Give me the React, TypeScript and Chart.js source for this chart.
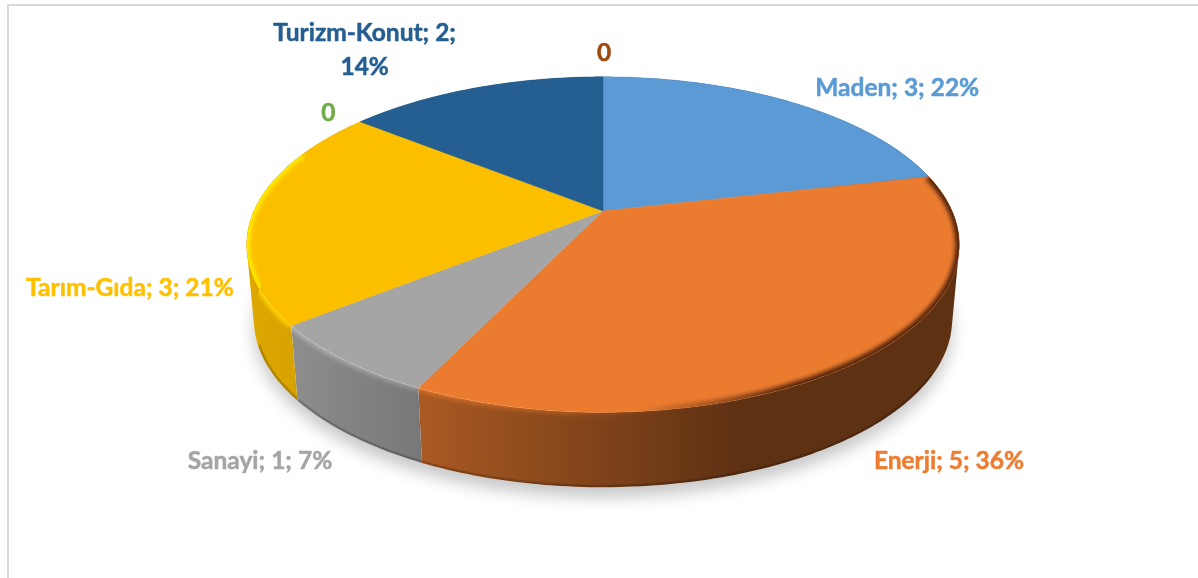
import React, { useEffect, useRef } from "react";
import { Chart, registerables } from "chart.js";

Chart.register(...registerables);

const categories = ["Maden", "Enerji", "Sanayi", "Tarım-Gıda", "", "Turizm-Konut", ""];
const values = [3, 5, 1, 3, 0, 2, 0];
const dataLabels = [
  "Maden; 3; 22%",
  "Enerji; 5; 36%",
  "Sanayi; 1; 7%",
  "Tarım-Gıda; 3; 21%",
  "0",
  "Turizm-Konut; 2;\n14%",
  "0",
];
const sliceColors = ["#5B9AD5", "#EB7B2F", "#A5A5A5", "#FCBF00", "#4472C4", "#255E91", "#255E91"];
const labelColors = ["#5B9BD5", "#ED7D31", "#A5A5A5", "#FFC000", "#70AD47", "#255E91", "#9E480E"];
// label centre relative to the slice's rim point at mid-angle
const labelOffsets = [
  [106, -14],
  [88, 101],
  [-85, 101],
  [-124, 77],
  [-32, -9],
  [-110, -38],
  [1, -24],
];

const W = 1198;
const H = 578;
const STRETCH_X = 2.168;
const PERSPECTIVE = -0.2;
const DEPTH = 75;
const BOTTOM_SCALE = 0.98;
const FONT = 'bold 24.5px Lato, "Open Sans", sans-serif';
const LINE_H = 34;
const WALL_SHADE: [number, number][] = [
  [-1.02, 0.88],
  [-0.868, 0.85],
  [-0.51, 0.72],
  [0.39, 0.4],
  [1.02, 0.4],
];

function hexRgb(hex: string) {
  return [1, 3, 5].map((i) => parseInt(hex.slice(i, i + 2), 16));
}
function shade(hex: string, f: number) {
  const [r, g, b] = hexRgb(hex);
  return `rgb(${Math.round(r * f)},${Math.round(g * f)},${Math.round(b * f)})`;
}

const pseudo3d = {
  id: "pseudo3d",
  beforeDatasetsDraw(chart: any) {
    const ctx: CanvasRenderingContext2D = chart.ctx;
    const arcs: any[] = chart.getDatasetMeta(0).data;
    if (!arcs.length) return false;
    const { x: cx, y: cy, outerRadius: R } = arcs[0];

    const pt = (a: number, lower = false) => {
      const u = Math.cos(a);
      const v = Math.sin(a);
      const w = 1 + PERSPECTIVE * v;
      const s = lower ? BOTTOM_SCALE : 1;
      return [cx + (STRETCH_X * R * u * s) / w, cy + (R * v) / w + (lower ? DEPTH : 0)];
    };
    const trace = (a0: number, a1: number, lower: boolean, start: boolean) => {
      const n = Math.max(2, Math.ceil(Math.abs(a1 - a0) / (Math.PI / 360)));
      for (let i = 0; i <= n; i++) {
        const [x, y] = pt(a0 + ((a1 - a0) * i) / n, lower);
        if (i === 0 && start) ctx.moveTo(x, y);
        else ctx.lineTo(x, y);
      }
    };
    const facePath = (a0: number, a1: number) => {
      ctx.beginPath();
      ctx.moveTo(cx, cy);
      trace(a0, a1, false, false);
      ctx.closePath();
    };
    const wallPath = (a0: number, a1: number) => {
      ctx.beginPath();
      trace(a0, a1, false, true);
      trace(a1, a0, true, false);
      ctx.closePath();
    };
    // the wall is the sweep of the rim: one path of same-wound rulings, so the silhouette stays straight
    const fillWall = (a0: number, a1: number) => {
      const step = Math.PI / 180;
      const n = Math.max(1, Math.ceil((a1 - a0) / step));
      ctx.beginPath();
      for (let i = 0; i < n; i++) {
        const p = a0 + ((a1 - a0) * i) / n;
        const q = a0 + ((a1 - a0) * (i + 1)) / n;
        const quad = [pt(p), pt(q), pt(q, true), pt(p, true)];
        let area = 0;
        quad.forEach(([x, y], k) => {
          const [nx, ny] = quad[(k + 1) % 4];
          area += x * ny - nx * y;
        });
        if (area < 0) quad.reverse();
        quad.forEach(([x, y], k) => (k === 0 ? ctx.moveTo(x, y) : ctx.lineTo(x, y)));
        ctx.closePath();
      }
      ctx.fill("nonzero");
    };
    const full = Math.PI * 2;
    const top = -Math.PI / 2;
    const deg = Math.PI / 180;
    const xOf = (f: number) => cx + STRETCH_X * R * f;
    const live = arcs
      .map((arc, i) => ({ i, a0: arc.startAngle, a1: arc.endAngle }))
      .filter((s) => s.a1 - s.a0 > 1e-6);

    // soft ground shadow
    ctx.save();
    ctx.shadowColor = "rgba(0,0,0,0.22)";
    ctx.shadowBlur = 16;
    ctx.shadowOffsetY = 10;
    ctx.fillStyle = "#ffffff";
    ctx.beginPath();
    trace(top, top + full, true, true);
    ctx.closePath();
    ctx.fill();
    ctx.restore();

    // side walls
    const f0 = WALL_SHADE[0][0];
    const f1 = WALL_SHADE[WALL_SHADE.length - 1][0];
    for (const s of live) {
      const g = ctx.createLinearGradient(xOf(f0), 0, xOf(f1), 0);
      for (const [f, k] of WALL_SHADE) g.addColorStop((f - f0) / (f1 - f0), shade(sliceColors[s.i], k));
      ctx.fillStyle = g;
      fillWall(s.a0, s.a1);
      // darker bottom lip, only along the front of the wall
      const lipFrom = Math.max(s.a0, top + 120 * deg);
      const lipTo = Math.min(s.a1, top + 250 * deg);
      if (lipTo > lipFrom) {
        ctx.save();
        wallPath(s.a0, s.a1);
        ctx.clip();
        ctx.globalCompositeOperation = "multiply";
        ctx.strokeStyle = "rgb(205,205,205)";
        ctx.lineWidth = 5;
        ctx.beginPath();
        trace(lipFrom, lipTo, true, true);
        ctx.stroke();
        ctx.restore();
      }
    }

    // top faces
    for (const s of live) {
      ctx.fillStyle = sliceColors[s.i];
      facePath(s.a0, s.a1);
      ctx.fill();
      ctx.strokeStyle = sliceColors[s.i];
      ctx.lineWidth = 0.5;
      ctx.stroke();
    }

    // bevel along the visible rim
    const bevelFrom = top + 77 * deg;
    const bevelTo = top + 292 * deg;
    for (const s of live) {
      const a0 = Math.max(s.a0, bevelFrom);
      const a1 = Math.min(s.a1, bevelTo);
      if (a1 <= a0) continue;
      // highlight, front-left
      ctx.save();
      ctx.beginPath();
      ctx.moveTo(cx, cy);
      trace(s.a0, s.a1, false, false);
      trace(s.a1, s.a0, true, false);
      ctx.closePath();
      ctx.clip();
      ctx.filter = "blur(2px)";
      ctx.globalCompositeOperation = "color-dodge";
      const hl = ctx.createLinearGradient(xOf(-1), 0, xOf(0.2), 0);
      hl.addColorStop(0, "rgb(55,55,55)");
      hl.addColorStop(0.75, "rgb(55,55,55)");
      hl.addColorStop(1, "rgb(0,0,0)");
      ctx.strokeStyle = hl;
      ctx.lineWidth = 6;
      ctx.beginPath();
      trace(a0, a1, false, true);
      ctx.stroke();
      ctx.restore();
      // dark rim, front-right
      ctx.save();
      facePath(s.a0, s.a1);
      ctx.clip();
      ctx.filter = "blur(2px)";
      ctx.globalCompositeOperation = "multiply";
      const dk = ctx.createLinearGradient(xOf(0.1), 0, xOf(0.55), 0);
      dk.addColorStop(0, "rgb(255,255,255)");
      dk.addColorStop(1, "rgb(90,70,60)");
      ctx.strokeStyle = dk;
      ctx.lineWidth = 8;
      ctx.beginPath();
      trace(a0, a1, false, true);
      ctx.stroke();
      ctx.restore();
    }

    // data labels
    ctx.save();
    ctx.font = FONT;
    ctx.textAlign = "center";
    ctx.textBaseline = "middle";
    ctx.lineWidth = 0.5;
    ctx.lineJoin = "round";
    arcs.forEach((arc, i) => {
      const [rx, ry] = pt((arc.startAngle + arc.endAngle) / 2);
      const lines = dataLabels[i].split("\n");
      const x = rx + labelOffsets[i][0];
      const y = ry + labelOffsets[i][1] - ((lines.length - 1) * LINE_H) / 2;
      ctx.fillStyle = labelColors[i];
      ctx.strokeStyle = labelColors[i];
      lines.forEach((t, j) => {
        ctx.fillText(t, x, y + j * LINE_H);
        ctx.strokeText(t, x, y + j * LINE_H);
      });
    });
    ctx.restore();
    return false;
  },
};

export default function App() {
  const ref = useRef<HTMLCanvasElement>(null);
  useEffect(() => {
    if (!ref.current) return;
    const chart = new Chart(ref.current, {
      type: "pie",
      data: {
        labels: categories,
        datasets: [{ data: values, backgroundColor: sliceColors, borderWidth: 0 }],
      },
      options: {
        responsive: false,
        animation: false,
        layout: { padding: { left: 8, right: 0, top: 50, bottom: 206 } },
        plugins: { legend: { display: false }, tooltip: { enabled: false }, title: { display: false } },
      },
      plugins: [pseudo3d],
    } as any);
    return () => chart.destroy();
  }, []);
  return (
    <div style={{ position: "fixed", left: 0, top: 0, width: W, height: H, overflow: "hidden", background: "#fff" }}>
      <div
        style={{
          position: "absolute",
          left: 7,
          top: 4,
          right: 0,
          bottom: 0,
          borderLeft: "2px solid #d9d9d9",
          borderTop: "2px solid #d9d9d9",
        }}
      />
      <canvas ref={ref} width={W} height={H} style={{ position: "absolute", left: 0, top: 0, display: "block" }} />
    </div>
  );
}
